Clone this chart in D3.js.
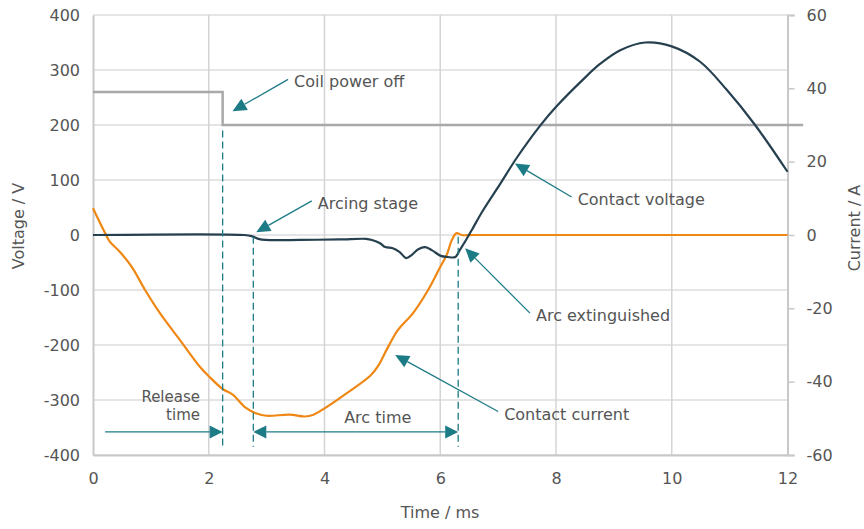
<!DOCTYPE html>
<html>
<head>
<meta charset="utf-8">
<script src="https://cdn.jsdelivr.net/npm/d3@7"></script>
<style>
  body { margin: 0; background: #fff; }
  text { font-family: "DejaVu Sans", sans-serif; fill: #555; }
</style>
</head>
<body>
<svg id="chart" width="864" height="529"></svg>
<script>
// contact voltage (ms, V)
const voltageT = [0, 2.62, 2.74, 2.86, 2.98, 3.58, 4.27, 4.72, 4.82, 4.96, 5.05, 5.18, 5.30, 5.41, 5.51, 5.62, 5.74, 5.86, 6.01, 6.13, 6.26, 6.34, 6.44, 6.55, 6.74, 7.03, 7.32, 7.72, 8.01, 8.47, 8.76, 9.11, 9.54, 10.0, 10.49, 10.95, 11.44, 12];
const voltageV = [0, 0, -2, -7, -9, -9, -8, -7, -9, -15, -22, -24, -31, -42, -36, -26, -22, -28, -38, -40, -40, -27, -10, 10, 45, 92, 140, 198, 234, 283, 311, 336, 350, 343, 315, 264, 200, 115];

// contact current (ms, A)
const currentT = [0, 0.1, 0.21, 0.29, 0.47, 0.67, 0.9, 1.16, 1.5, 1.85, 2.0, 2.24, 2.42, 2.63, 2.83, 3.0, 3.4, 3.66, 3.81, 3.98, 4.38, 4.79, 4.93, 5.07, 5.27, 5.53, 5.79, 6.0, 6.11, 6.2, 6.28, 6.37, 6.6, 12];
const currentA = [7.3, 4, 0.5, -1.8, -4.7, -8.7, -15, -21.4, -28.6, -36, -38.5, -42, -43.6, -47, -48.7, -49.3, -49, -49.5, -49, -47.5, -43.2, -38.4, -35.6, -31.4, -25.9, -21.3, -15, -8.7, -5.5, -1.4, 0.5, 0, 0, 0];

// coil supply (ms, V on left axis)
const coilT = [0, 2.24, 2.24, 12.27];
const coilV = [260, 260, 200, 200];

const xTicks = [0, 2, 4, 6, 8, 10, 12];
const vTicks = [-400, -300, -200, -100, 0, 100, 200, 300, 400];
const aTicks = [-60, -40, -20, 0, 20, 40, 60];

// event times: coil off, arc start, arc extinguished
const markTimes = [2.24, 2.77, 6.31];

// annotations: label, tail (ms, V), tip (ms, V)
const notes = [
  { label: 'Coil power off', tail: [3.37, 283], tip: [2.41, 225] },
  { label: 'Arcing stage', tail: [3.78, 62], tip: [2.82, 5] },
  { label: 'Contact voltage', tail: [8.27, 69], tip: [7.29, 130] },
  { label: 'Arc extinguished', tail: [7.55, -142], tip: [6.43, -24] },
  { label: 'Contact current', tail: [7.0, -321], tip: [5.22, -218] }
];

const width = 864, height = 529;
const margin = { left: 93, right: 76.5, top: 15, bottom: 74 };
const teal = '#1d7b86';

const svg = d3.select('#chart');

const x = d3.scaleLinear().domain([0, 12]).range([margin.left, width - margin.right]);
const yV = d3.scaleLinear().domain([-400, 400]).range([height - margin.bottom, margin.top]);
const yA = d3.scaleLinear().domain([-60, 60]).range([height - margin.bottom, margin.top]);

// grid
const grid = svg.append('g');
grid.selectAll('.hg')
  .data(vTicks)
  .enter()
  .append('line')
  .attr('x1', x(0)).attr('x2', x(12))
  .attr('y1', d => yV(d)).attr('y2', d => yV(d))
  .attr('stroke', '#dcdcdc')
  .attr('stroke-width', 1.5);
grid.selectAll('.vg')
  .data(xTicks.slice(1, -1))
  .enter()
  .append('line')
  .attr('x1', d => x(d)).attr('x2', d => x(d))
  .attr('y1', yV(400)).attr('y2', yV(-400))
  .attr('stroke', '#d4d4d4')
  .attr('stroke-width', 1.5);

// axes (plain hyphen minus like the original)
const fmt = d => String(d);
const leftAxis = svg.append('g')
  .attr('transform', 'translate(' + x(0) + ',0)')
  .call(d3.axisLeft(yV).tickValues(vTicks).tickFormat(fmt).tickSize(0).tickPadding(13));
const bottomAxis = svg.append('g')
  .attr('transform', 'translate(0,' + yV(-400) + ')')
  .call(d3.axisBottom(x).tickValues(xTicks).tickFormat(fmt).tickSize(0).tickPadding(18));
const rightAxis = svg.append('g')
  .attr('transform', 'translate(' + x(12) + ',0)')
  .call(d3.axisRight(yA).tickValues(aTicks).tickFormat(fmt).tickSize(7).tickPadding(12));

[leftAxis, bottomAxis, rightAxis].forEach(a => {
  a.select('.domain').attr('stroke', '#c8c8c8').attr('stroke-width', 2);
  a.selectAll('.tick line').attr('stroke', '#c8c8c8').attr('stroke-width', 1.5);
  a.selectAll('.tick text')
    .attr('font-family', '"DejaVu Sans", sans-serif')
    .attr('font-size', 16)
    .attr('fill', '#555');
});

svg.append('text')
  .attr('transform', 'translate(24,226) rotate(-90)')
  .attr('text-anchor', 'middle')
  .attr('font-size', 16)
  .text('Voltage / V');
svg.append('text')
  .attr('transform', 'translate(860,228) rotate(-90)')
  .attr('text-anchor', 'middle')
  .attr('font-size', 16)
  .text('Current / A');
svg.append('text')
  .attr('x', 440).attr('y', 518)
  .attr('text-anchor', 'middle')
  .attr('font-size', 16)
  .text('Time / ms');

// series
const smooth = d3.curveCatmullRom.alpha(0.5);
const lineV = d3.line().x(d => x(d[0])).y(d => yV(d[1])).curve(smooth);
const lineA = d3.line().x(d => x(d[0])).y(d => yA(d[1])).curve(smooth);
const lineStep = d3.line().x(d => x(d[0])).y(d => yV(d[1]));

svg.append('path')
  .datum(coilT.map((t, i) => [t, coilV[i]]))
  .attr('d', lineStep)
  .attr('fill', 'none')
  .attr('stroke', '#a9a9a9')
  .attr('stroke-width', 2.5);

svg.append('path')
  .datum(currentT.map((t, i) => [t, currentA[i]]))
  .attr('d', lineA)
  .attr('fill', 'none')
  .attr('stroke', '#ef8714')
  .attr('stroke-width', 2.2);

svg.append('path')
  .datum(voltageT.map((t, i) => [t, voltageV[i]]))
  .attr('d', lineV)
  .attr('fill', 'none')
  .attr('stroke', '#26404f')
  .attr('stroke-width', 2.2);

// dashed event markers
const markTop = [190, -3, -3];
svg.selectAll('.mark')
  .data(markTimes)
  .enter()
  .append('line')
  .attr('x1', d => x(d)).attr('x2', d => x(d))
  .attr('y1', (d, i) => yV(markTop[i]))
  .attr('y2', yV(-385))
  .attr('stroke', teal)
  .attr('stroke-width', 1.3)
  .attr('stroke-dasharray', '7,4');

// arrow helper, pixel coords
const arrow = (x1, y1, x2, y2, head) => {
  const a = Math.atan2(y2 - y1, x2 - x1);
  const len = head || 14, hw = 6.5;
  const bx = x2 - len * Math.cos(a), by = y2 - len * Math.sin(a);
  svg.append('line')
    .attr('x1', x1).attr('y1', y1).attr('x2', bx).attr('y2', by)
    .attr('stroke', teal).attr('stroke-width', 1.3);
  const px = -Math.sin(a) * hw, py = Math.cos(a) * hw;
  svg.append('path')
    .attr('d', `M${x2},${y2}L${bx + px},${by + py}L${bx - px},${by - py}Z`)
    .attr('fill', teal);
};

notes.forEach(n => {
  arrow(x(n.tail[0]), yV(n.tail[1]), x(n.tip[0]), yV(n.tip[1]));
  svg.append('text')
    .attr('x', x(n.tail[0]) + 6)
    .attr('y', yV(n.tail[1]) + 8)
    .attr('font-size', 16)
    .text(n.label);
});

// release time / arc time arrows
const yArrow = yV(-358);
const arcMid = (markTimes[1] + markTimes[2]) / 2;
arrow(x(0.21), yArrow, x(markTimes[0]), yArrow, 13);
arrow(x(arcMid), yArrow, x(markTimes[1]), yArrow, 13);
arrow(x(arcMid), yArrow, x(markTimes[2]), yArrow, 13);

svg.append('text')
  .attr('x', 200).attr('y', 402)
  .attr('text-anchor', 'end')
  .attr('font-size', 15)
  .text('Release');
svg.append('text')
  .attr('x', 200).attr('y', 420)
  .attr('text-anchor', 'end')
  .attr('font-size', 15)
  .text('time');

svg.append('text')
  .attr('x', x(arcMid) + 22).attr('y', 423)
  .attr('text-anchor', 'middle')
  .attr('font-size', 16)
  .text('Arc time');
</script>
</body>
</html>
